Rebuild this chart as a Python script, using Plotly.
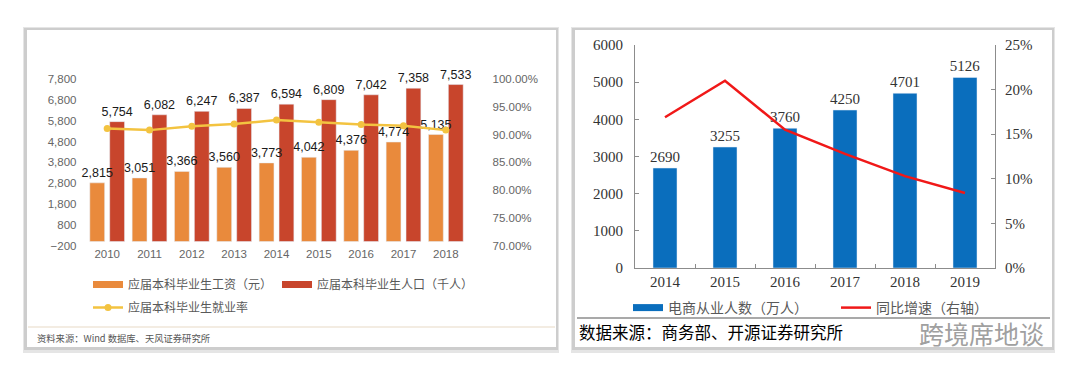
import plotly.graph_objects as go

W, H = 1080, 380
OFF = 8  # the page body margin shifts the figure by 8 px

# ---------------- data: left panel ----------------
years_l = ["2010", "2011", "2012", "2013", "2014", "2015", "2016", "2017", "2018"]
salary = [2815, 3051, 3366, 3560, 3773, 4042, 4376, 4774, 5135]
graduates = [5754, 6082, 6247, 6387, 6594, 6809, 7042, 7358, 7533]
employ_rate = [0.911, 0.908, 0.915, 0.919, 0.926, 0.922, 0.918, 0.916, 0.908]
name_salary = "应届本科毕业生工资（元）"
name_grad = "应届本科毕业生人口（千人）"
name_rate = "应届本科毕业生就业率"
source_l = "资料来源：Wind 数据库、天风证券研究所"

# ---------------- data: right panel ----------------
years_r = ["2014", "2015", "2016", "2017", "2018", "2019"]
ecom_staff = [2690, 3255, 3760, 4250, 4701, 5126]
yoy_growth = [0.169, 0.210, 0.155, 0.128, 0.103, 0.084]
name_staff = "电商从业人数（万人）"
name_yoy = "同比增速（右轴）"
source_r = "数据来源：商务部、开源证券研究所"
watermark = "跨境席地谈"


def px(x):
    return (x - OFF) / W


def py(y):
    return 1 - (y - OFF) / H


SANS = "Liberation Sans, Arial, sans-serif"
CJK = "Noto Sans CJK SC, sans-serif"
SERIF = "Liberation Serif, DejaVu Serif, serif"

C_OR = "#E98A3C"
C_RED = "#C8452C"
C_YEL = "#F3C340"
C_BLUE = "#0A6EBD"
C_LINE = "#F01818"

BW = 0.35   # bar width (category units), left panel
GAP = 0.12  # gap between the paired bars

fig = go.Figure()

# left bars (red first so the orange labels are painted above the red bars)
fig.add_trace(go.Bar(
    x=years_l, y=graduates, name=name_grad, marker_color=C_RED,
    width=BW, offset=GAP / 2, showlegend=False,
    text=graduates, texttemplate="%{y:,}", textposition="outside",
    constraintext="none", cliponaxis=False,
    textfont=dict(family=SANS, size=12.5, color="#1a1a1a"),
    xaxis="x", yaxis="y"))
fig.add_trace(go.Bar(
    x=years_l, y=salary, name=name_salary, marker_color=C_OR,
    width=BW, offset=-GAP / 2 - BW, showlegend=False,
    text=salary, texttemplate="%{y:,}", textposition="outside",
    constraintext="none", cliponaxis=False,
    textfont=dict(family=SANS, size=12.5, color="#1a1a1a"),
    xaxis="x", yaxis="y"))
fig.add_trace(go.Scatter(
    x=years_l, y=employ_rate, name=name_rate, mode="lines+markers",
    line=dict(color=C_YEL, width=2.5), marker=dict(size=7, color=C_YEL),
    xaxis="x", yaxis="y2", legend="legend2"))

# right bars + line
fig.add_trace(go.Bar(
    x=years_r, y=ecom_staff, name=name_staff, marker_color=C_BLUE,
    width=0.4, offset=-0.2, showlegend=False,
    text=ecom_staff, texttemplate="%{y}", textposition="outside",
    constraintext="none", cliponaxis=False,
    textfont=dict(family=SERIF, size=15, color="#333333"),
    xaxis="x3", yaxis="y3"))
fig.add_trace(go.Scatter(
    x=years_r, y=yoy_growth, name=name_yoy, mode="lines",
    line=dict(color=C_LINE, width=2.5), showlegend=False,
    xaxis="x3", yaxis="y4"))

# legend entries drawn as wide swatches (same names/colours as the traces above)
for nm, col, lg, xa, ya in [(name_salary, C_OR, "legend", "x", "y"),
                            (name_grad, C_RED, "legend", "x", "y"),
                            (name_staff, C_BLUE, "legend3", "x3", "y3"),
                            (name_yoy, C_LINE, "legend3", "x3", "y4")]:
    wd = 2.5 if col == C_LINE else 7
    fig.add_trace(go.Scatter(x=[None], y=[None], name=nm, mode="lines",
                             line=dict(color=col, width=wd), legend=lg,
                             xaxis=xa, yaxis=ya, hoverinfo="skip"))

tick_l = dict(family=SANS, size=11.5, color="#666666")
tick_r = dict(family=SERIF, size=15, color="#333333")

shapes = []
# card shadows and cards
for (x0, x1) in [(25, 557), (573, 1053)]:
    shapes.append(dict(type="rect", xref="paper", yref="paper",
                       x0=px(x0 - 2), x1=px(x1 + 2), y0=py(353), y1=py(27),
                       fillcolor="rgba(0,0,0,0.10)", line=dict(width=0), layer="below"))
    shapes.append(dict(type="rect", xref="paper", yref="paper",
                       x0=px(x0 - 1), x1=px(x1 + 1), y0=py(350), y1=py(28),
                       fillcolor="rgba(0,0,0,0.10)", line=dict(width=0), layer="below"))
    shapes.append(dict(type="rect", xref="paper", yref="paper",
                       x0=px(x0 + 2), x1=px(x1 - 1), y0=py(347), y1=py(30),
                       fillcolor="white", line=dict(width=0), layer="below"))
# footer separators
shapes.append(dict(type="line", xref="paper", yref="paper",
                   x0=px(28), x1=px(555), y0=py(327), y1=py(327),
                   line=dict(color="#EFE6D8", width=1.5)))
shapes.append(dict(type="line", xref="paper", yref="paper",
                   x0=px(577), x1=px(1050), y0=py(318), y1=py(318),
                   line=dict(color="#555555", width=1.2)))

annotations = [
    dict(text=source_l, xref="paper", yref="paper", x=px(35), y=py(338),
         xanchor="left", yanchor="middle", showarrow=False,
         font=dict(family=CJK, size=9.3, color="#555555")),
    dict(text=source_r, xref="paper", yref="paper", x=px(577), y=py(332),
         xanchor="left", yanchor="middle", showarrow=False,
         font=dict(family=CJK, size=16.5, color="#000000")),
    dict(text=watermark, xref="paper", yref="paper", x=px(1046), y=py(333),
         xanchor="right", yanchor="middle", showarrow=False,
         font=dict(family=CJK, size=25, color="#a0a0a0")),
]

fig.update_layout(
    width=W, height=H, margin=dict(l=0, r=0, t=0, b=0, pad=0, autoexpand=False),
    paper_bgcolor="white", plot_bgcolor="rgba(0,0,0,0)",
    barmode="overlay",
    shapes=shapes, annotations=annotations,
    xaxis=dict(domain=[px(83.5), px(469.5)], anchor="y", showgrid=False,
               showline=False, ticks="", tickfont=tick_l, automargin=False),
    yaxis=dict(domain=[py(245.7), py(79)], range=[-200, 7800], tick0=-200, dtick=1000,
               tickformat=",", showgrid=False, zeroline=False, showline=False,
               tickfont=tick_l, anchor="x", ticklabelstandoff=6, automargin=False),
    yaxis2=dict(overlaying="y", side="right", range=[0.70, 1.00], dtick=0.05,
                tickformat=".2%", showgrid=False, zeroline=False, showline=False,
                tickfont=tick_l, anchor="x", ticklabelstandoff=22, automargin=False),
    xaxis3=dict(domain=[px(635), px(995)], anchor="y3", showgrid=False,
                showline=True, linecolor="#8c8c8c", linewidth=1,
                ticks="inside", tickson="boundaries", ticklen=4, tickcolor="#8c8c8c",
                tickfont=tick_r, automargin=False),
    yaxis3=dict(domain=[py(268), py(45)], range=[0, 6000], dtick=1000,
                showgrid=False, zeroline=False, showline=True, linecolor="#8c8c8c",
                ticks="inside", ticklen=4, tickcolor="#8c8c8c",
                tickfont=tick_r, anchor="x3", ticklabelstandoff=8, automargin=False),
    yaxis4=dict(overlaying="y3", side="right", range=[0, 0.25], dtick=0.05,
                tickformat=".0%", showgrid=False, zeroline=False, showline=True,
                linecolor="#8c8c8c", ticks="inside", ticklen=4, tickcolor="#8c8c8c",
                tickfont=tick_r, anchor="x3", ticklabelstandoff=6, automargin=False),
    legend=dict(orientation="h", x=px(88), y=py(270), xanchor="left", yanchor="top",
                bgcolor="rgba(0,0,0,0)",
                font=dict(family=CJK, size=12, color="#595959"), itemwidth=30),
    legend2=dict(orientation="h", x=px(88), y=py(293), xanchor="left", yanchor="top",
                 bgcolor="rgba(0,0,0,0)",
                 font=dict(family=CJK, size=12, color="#595959"), itemwidth=30),
    legend3=dict(orientation="h", x=px(628), y=py(292), xanchor="left", yanchor="top",
                 entrywidth=163, entrywidthmode="pixels", bgcolor="rgba(0,0,0,0)",
                 font=dict(family=CJK, size=14, color="#595959"), itemwidth=30),
)

fig.write_html("out.html")
